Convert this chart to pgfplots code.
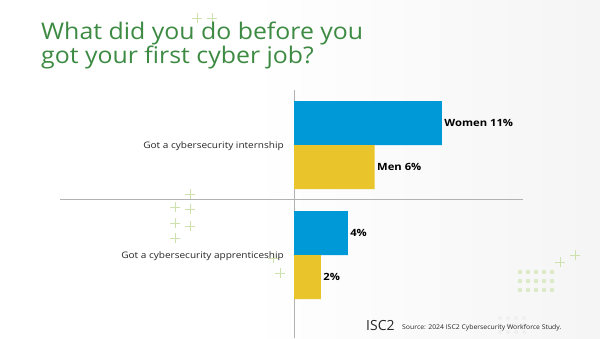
\documentclass[border=0pt]{standalone}
\usepackage{pgfplots}
\pgfplotsset{compat=1.18}
\usepackage{fontspec}
\setmainfont{Open Sans}
\definecolor{titlegreen}{RGB}{61,139,67}
\definecolor{barblue}{RGB}{0,153,216}
\definecolor{baryellow}{RGB}{233,196,42}
\definecolor{decogreen}{RGB}{205,225,175}
\begin{document}
\begin{tikzpicture}[x=1bp,y=1bp]
\useasboundingbox (0,0) rectangle (600,338);
\fill[white] (0,0) rectangle (600,338);
\shade[left color=white, right color=black!4] (250,0) rectangle (600,338);
% faint decorations
\foreach \px/\py in {190/194,175/207,190/209,175/223,190/226,175/238,280/273,273/258,197/18,212/18,560/262,575/255}{
  \draw[decogreen, line width=0.8bp] (\px-5,338-\py) -- (\px+5,338-\py) (\px,338-\py-5) -- (\px,338-\py+5);
}
\foreach \i in {0,...,4}{\foreach \j in {0,...,2}{
  \fill[decogreen!70] (520+\i*8,338-272-\j*9) circle (2.3bp);
}}
\foreach \i in {0,...,3}{\foreach \j in {0,...,2}{
  \fill[black!6] (500+\i*8,338-318-\j*7) circle (2bp);
}}
\begin{axis}[
  at={(294bp,0bp)}, anchor=south west,
  scale only axis, width=228.65bp, height=248bp,
  xbar, bar width=44bp,
  xmin=0, xmax=17, ymin=-0.7545, ymax=1.5,
  axis x line=none, axis y line=left,
  y axis line style={-, draw=black!30, line width=0.6bp},
  ytick={0,1}, yticklabels={Got a cybersecurity apprenticeship, Got a cybersecurity internship},
  major tick length=0, ytick style={draw=none},
  yticklabel style={font=\fontsize{9}{10}\selectfont, color=black!85, anchor=east, inner sep=0pt, xshift=-10bp, yshift=-1.5bp, xscale=1.12},
  nodes near coords={\pgfplotspointmeta},
  point meta=explicit symbolic,
  every node near coord/.append style={font=\bfseries\fontsize{10}{11}\selectfont, anchor=west, color=black, inner sep=2bp, xscale=1.13},
  clip=false,
]
\addplot[fill=barblue, draw=none, bar shift=22bp] coordinates {(11,1) [Women 11\%] (4,0) [4\%]};
\addplot[fill=baryellow, draw=none, bar shift=-22bp] coordinates {(6,1) [Men 6\%] (2,0) [2\%]};
\end{axis}
\draw[black!30, line width=0.6bp] (60,139) -- (523,139);
\node[anchor=base west, inner sep=0, font=\fontsize{23}{24}\selectfont, color=titlegreen, xscale=1.085] at (41,298.5) {What did you do before you};
\node[anchor=base west, inner sep=0, font=\fontsize{23}{24}\selectfont, color=titlegreen, xscale=1.085] at (41,274.5) {got your first cyber job?};
\node[anchor=base west, inner sep=0, font=\fontsize{14}{14}\selectfont, color=black!85] at (366,8) {ISC2};
\node[anchor=base west, inner sep=0, font=\fontsize{6.5}{7}\selectfont, color=black!85, xscale=1.06] at (402,9) {Source: 2024 ISC2 Cybersecurity Workforce Study.};
\end{tikzpicture}
\end{document}
